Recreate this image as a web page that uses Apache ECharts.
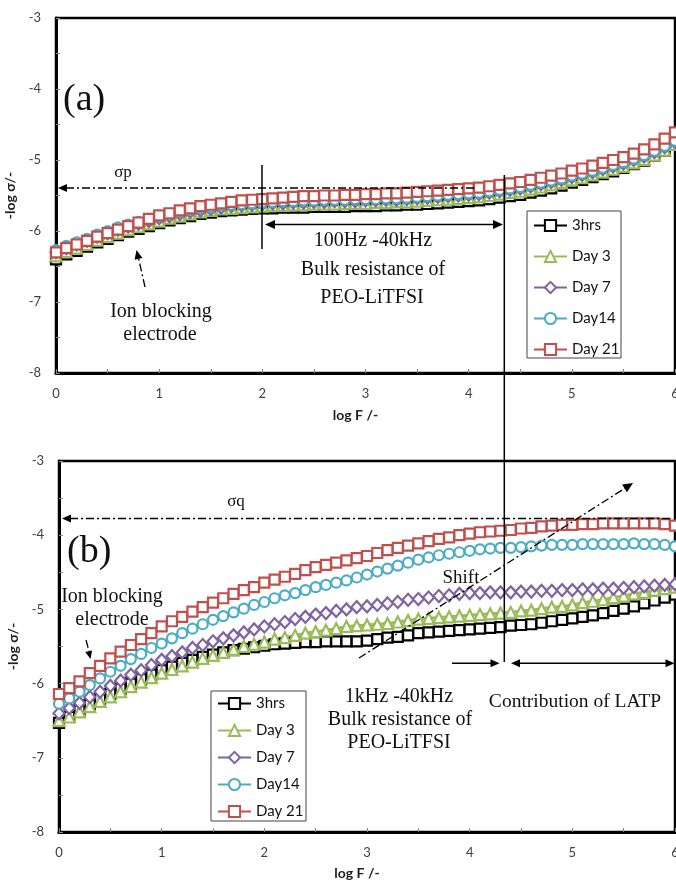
<!DOCTYPE html>
<html><head><meta charset="utf-8">
<script src="https://cdn.jsdelivr.net/npm/echarts@6/dist/echarts.min.js"></script>
<style>html,body{margin:0;padding:0;background:#fff;overflow:hidden}#c{width:676px;height:882px}</style>
</head><body><div id="c"></div>
<script>
const logF = [0,0.1,0.2,0.3,0.4,0.5,0.6,0.7,0.8,0.9,1,1.1,1.2,1.3,1.4,1.5,1.6,1.7,1.8,1.9,2,2.1,2.2,2.3,2.4,2.5,2.6,2.7,2.8,2.9,3,3.1,3.2,3.3,3.4,3.5,3.6,3.7,3.8,3.9,4,4.1,4.2,4.3,4.4,4.5,4.6,4.7,4.8,4.9,5,5.1,5.2,5.3,5.4,5.5,5.6,5.7,5.8,5.9,6];
const seriesNames = ['3hrs','Day 3','Day 7','Day14','Day 21'];
const seriesColors = ['#000000','#9BBB59','#8064A2','#4BACC6','#C0504D'];
const seriesSymbols = ['rect','triangle','diamond','circle','rect'];
const xTickValues = [0,1,2,3,4,5,6];
const yTickValues = [-8,-7,-6,-5,-4,-3];

// (a) top panel
const a_3hrs = [-6.40,-6.33,-6.28,-6.22,-6.16,-6.11,-6.06,-6.01,-5.97,-5.93,-5.89,-5.85,-5.82,-5.79,-5.76,-5.74,-5.72,-5.71,-5.70,-5.69,-5.68,-5.68,-5.67,-5.67,-5.67,-5.66,-5.66,-5.66,-5.66,-5.65,-5.65,-5.65,-5.64,-5.64,-5.63,-5.63,-5.62,-5.61,-5.60,-5.59,-5.58,-5.57,-5.55,-5.53,-5.51,-5.49,-5.46,-5.43,-5.40,-5.36,-5.32,-5.28,-5.24,-5.20,-5.16,-5.11,-5.06,-5.01,-4.94,-4.87,-4.78];
const a_day3 = [-6.35,-6.29,-6.24,-6.19,-6.13,-6.08,-6.03,-5.98,-5.94,-5.90,-5.86,-5.82,-5.79,-5.76,-5.73,-5.71,-5.69,-5.68,-5.67,-5.66,-5.65,-5.64,-5.64,-5.63,-5.63,-5.62,-5.62,-5.62,-5.61,-5.61,-5.61,-5.60,-5.60,-5.59,-5.59,-5.58,-5.57,-5.56,-5.55,-5.54,-5.53,-5.52,-5.50,-5.48,-5.46,-5.44,-5.41,-5.38,-5.35,-5.32,-5.28,-5.25,-5.21,-5.17,-5.13,-5.09,-5.04,-4.99,-4.93,-4.86,-4.78];
const a_day7 = [-6.30,-6.24,-6.19,-6.14,-6.08,-6.03,-5.98,-5.94,-5.90,-5.86,-5.82,-5.79,-5.76,-5.73,-5.71,-5.69,-5.67,-5.65,-5.64,-5.63,-5.62,-5.61,-5.61,-5.60,-5.60,-5.59,-5.59,-5.58,-5.58,-5.58,-5.57,-5.57,-5.56,-5.56,-5.55,-5.54,-5.53,-5.52,-5.51,-5.50,-5.49,-5.48,-5.46,-5.44,-5.42,-5.40,-5.37,-5.34,-5.31,-5.28,-5.24,-5.21,-5.17,-5.13,-5.09,-5.05,-5.00,-4.95,-4.89,-4.82,-4.75];
const a_day14 = [-6.27,-6.21,-6.16,-6.11,-6.05,-6.00,-5.95,-5.91,-5.87,-5.83,-5.79,-5.76,-5.73,-5.70,-5.68,-5.66,-5.64,-5.63,-5.62,-5.61,-5.60,-5.59,-5.58,-5.58,-5.57,-5.57,-5.56,-5.56,-5.56,-5.55,-5.55,-5.55,-5.54,-5.54,-5.53,-5.52,-5.51,-5.50,-5.49,-5.48,-5.47,-5.46,-5.44,-5.42,-5.40,-5.38,-5.35,-5.32,-5.29,-5.26,-5.22,-5.19,-5.15,-5.11,-5.07,-5.03,-4.98,-4.93,-4.87,-4.80,-4.73];
const a_day21 = [-6.30,-6.24,-6.19,-6.14,-6.08,-6.03,-5.98,-5.93,-5.88,-5.83,-5.78,-5.75,-5.71,-5.68,-5.65,-5.63,-5.61,-5.59,-5.57,-5.56,-5.55,-5.54,-5.53,-5.52,-5.51,-5.51,-5.50,-5.50,-5.49,-5.49,-5.48,-5.48,-5.47,-5.47,-5.46,-5.45,-5.44,-5.43,-5.42,-5.41,-5.40,-5.39,-5.37,-5.35,-5.33,-5.31,-5.28,-5.25,-5.22,-5.19,-5.15,-5.12,-5.08,-5.04,-5.00,-4.96,-4.91,-4.85,-4.78,-4.70,-4.61];

// (b) bottom panel
const b_3hrs = [-6.53,-6.45,-6.36,-6.28,-6.21,-6.14,-6.07,-6.00,-5.94,-5.88,-5.82,-5.77,-5.72,-5.68,-5.64,-5.61,-5.58,-5.55,-5.53,-5.51,-5.49,-5.47,-5.46,-5.45,-5.44,-5.44,-5.43,-5.43,-5.43,-5.43,-5.42,-5.40,-5.38,-5.37,-5.35,-5.32,-5.31,-5.30,-5.29,-5.28,-5.27,-5.26,-5.25,-5.24,-5.22,-5.21,-5.20,-5.18,-5.16,-5.14,-5.12,-5.10,-5.08,-5.05,-5.02,-4.99,-4.96,-4.92,-4.88,-4.84,-4.80];
const b_day3 = [-6.50,-6.45,-6.38,-6.31,-6.24,-6.18,-6.11,-6.04,-5.98,-5.92,-5.86,-5.81,-5.76,-5.71,-5.66,-5.62,-5.58,-5.54,-5.50,-5.47,-5.44,-5.40,-5.38,-5.35,-5.32,-5.30,-5.28,-5.26,-5.23,-5.22,-5.21,-5.20,-5.19,-5.17,-5.15,-5.13,-5.12,-5.11,-5.10,-5.09,-5.08,-5.07,-5.06,-5.05,-5.04,-5.02,-5.01,-4.99,-4.97,-4.96,-4.94,-4.91,-4.89,-4.87,-4.84,-4.82,-4.79,-4.77,-4.74,-4.72,-4.70];
const b_day7 = [-6.40,-6.33,-6.26,-6.18,-6.11,-6.03,-5.96,-5.88,-5.82,-5.75,-5.68,-5.63,-5.58,-5.52,-5.48,-5.43,-5.39,-5.35,-5.31,-5.27,-5.23,-5.20,-5.17,-5.13,-5.10,-5.07,-5.05,-5.02,-5.00,-4.97,-4.96,-4.94,-4.92,-4.90,-4.87,-4.86,-4.84,-4.82,-4.81,-4.79,-4.78,-4.78,-4.77,-4.77,-4.77,-4.76,-4.76,-4.75,-4.75,-4.74,-4.74,-4.73,-4.73,-4.72,-4.72,-4.71,-4.70,-4.69,-4.68,-4.67,-4.66];
const b_day14 = [-6.27,-6.20,-6.11,-6.02,-5.93,-5.84,-5.76,-5.67,-5.60,-5.52,-5.46,-5.39,-5.32,-5.26,-5.20,-5.14,-5.09,-5.04,-4.99,-4.94,-4.90,-4.85,-4.81,-4.78,-4.74,-4.70,-4.67,-4.64,-4.61,-4.57,-4.53,-4.49,-4.45,-4.41,-4.37,-4.33,-4.30,-4.27,-4.25,-4.23,-4.21,-4.19,-4.18,-4.17,-4.17,-4.16,-4.15,-4.14,-4.13,-4.13,-4.13,-4.12,-4.12,-4.12,-4.12,-4.12,-4.11,-4.12,-4.12,-4.13,-4.15];
const b_day21 = [-6.14,-6.06,-5.97,-5.86,-5.76,-5.66,-5.57,-5.48,-5.40,-5.32,-5.23,-5.16,-5.10,-5.03,-4.97,-4.91,-4.85,-4.79,-4.74,-4.70,-4.64,-4.60,-4.56,-4.52,-4.47,-4.43,-4.40,-4.37,-4.34,-4.31,-4.28,-4.24,-4.20,-4.17,-4.14,-4.11,-4.08,-4.05,-4.03,-4.00,-3.98,-3.96,-3.95,-3.94,-3.93,-3.91,-3.90,-3.88,-3.87,-3.86,-3.86,-3.85,-3.85,-3.84,-3.84,-3.84,-3.84,-3.84,-3.84,-3.85,-3.87];

const panelA = [a_3hrs, a_day3, a_day7, a_day14, a_day21];
const panelB = [b_3hrs, b_day3, b_day7, b_day14, b_day21];

const symbolSizes = [10, 11, [11,12], 10, 10];

function mkSeries(idx, arr, g) {
  return {
    name: seriesNames[idx], type: 'line', xAxisIndex: g, yAxisIndex: g,
    data: logF.map((x, i) => [x, arr[i]]),
    symbol: seriesSymbols[idx], symbolSize: symbolSizes[idx],
    showSymbol: true, showAllSymbol: true,
    itemStyle: { color: '#fff', borderColor: seriesColors[idx], borderWidth: 2.2 },
    lineStyle: { color: seriesColors[idx], width: 3 },
    emphasis: { disabled: true }, animation: false, z: 2
  };
}

const series = [];
panelA.forEach((arr, i) => series.push(mkSeries(i, arr, 0)));
panelB.forEach((arr, i) => series.push(mkSeries(i, arr, 1)));

const labelFont = { fontFamily: 'Lato', fontSize: 13, color: '#404040' };
function mkX(g, gap) {
  return {
    type: 'value', gridIndex: g, min: 0, max: 6, interval: 1,
    name: 'log F /-', nameLocation: 'middle', nameGap: gap,
    nameTextStyle: { fontFamily: 'Lato', fontWeight: 'bold', fontSize: 14, color: '#222', padding: [0, 20, 0, 0] },
    axisLine: { show: true, onZero: false, lineStyle: { color: '#000', width: 3 } },
    axisTick: { show: true, inside: true, length: 4, lineStyle: { color: '#888' } },
    minorTick: { show: true, splitNumber: 2, length: 4, lineStyle: { color: '#888' } },
    splitLine: { show: false },
    axisLabel: Object.assign({ margin: 14, formatter: v => xTickValues.includes(v) ? String(v) : '' }, labelFont)
  };
}
function mkY(g) {
  return {
    type: 'value', gridIndex: g, min: -8, max: -3, interval: 1,
    name: '-log σ/-', nameLocation: 'middle', nameGap: 31,
    nameTextStyle: { fontFamily: 'Lato', fontWeight: 'bold', fontSize: 14, color: '#222' },
    axisLine: { show: true, onZero: false, lineStyle: { color: '#000', width: 3 } },
    axisTick: { show: true, inside: true, length: 4, lineStyle: { color: '#888' } },
    minorTick: { show: true, splitNumber: 2, length: 4, lineStyle: { color: '#888' } },
    splitLine: { show: false },
    axisLabel: Object.assign({ margin: 15, formatter: v => yTickValues.includes(v) ? String(v) : '' }, labelFont)
  };
}

const serif = '"Liberation Serif", "Times New Roman", serif';
function txt(s, x, y, size, align) {
  return { type: 'text', x: x, y: y, z: 100,
    style: { text: s, fontFamily: serif, fontSize: size || 20, fill: '#111', align: align || 'center', verticalAlign: 'middle' } };
}
function ln(x1, y1, x2, y2, dash) {
  return { type: 'line', z: 100, shape: { x1, y1, x2, y2 },
    style: { stroke: '#000', lineWidth: dash ? 1.3 : 1.5, lineDash: dash ? [8, 3, 2, 3] : null } };
}
function head(tx, ty, fx, fy, len, hw) {
  len = len || 9; hw = hw || 4;
  const dx = tx - fx, dy = ty - fy, d = Math.hypot(dx, dy), ux = dx / d, uy = dy / d;
  const bx = tx - ux * len, by = ty - uy * len;
  return { type: 'polygon', z: 100, shape: { points: [[tx, ty], [bx - uy * hw, by + ux * hw], [bx + uy * hw, by - ux * hw]] }, style: { fill: '#000' } };
}
function rectBox(x, y, w, h) {
  return { type: 'rect', z: 3, shape: { x, y, width: w, height: h }, style: { fill: '#fff', stroke: '#444', lineWidth: 1 } };
}

const graphics = [
  rectBox(527, 211, 94, 147),
  rectBox(211, 691, 95, 130),
  // top panel
  txt('(a)', 63, 100, 38, 'left'),
  txt('σp', 123, 173, 17),
  ln(66, 188, 474, 188, true), head(58, 188, 70, 188),
  ln(262, 165, 262, 249, false),
  ln(272, 224.5, 496, 224.5, false), head(265, 224.5, 280, 224.5, 10, 4.5), head(503, 224.5, 490, 224.5, 10, 4.5),
  txt('100Hz -40kHz', 373, 241), txt('Bulk resistance of', 373, 270), txt('PEO-LiTFSI', 372, 298),
  txt('Ion blocking', 161, 312), txt('electrode', 160, 335),
  ln(145, 287, 138.5, 258, true), head(136.5, 250, 145, 287),
  // long vertical line
  ln(504.3, 175, 504.3, 662, false),
  // bottom panel
  txt('(b)', 67, 552, 38, 'left'),
  txt('σq', 236, 502, 17),
  ln(70, 518.5, 672, 518.5, true), head(62, 518.5, 75, 518.5),
  txt('Ion blocking', 112, 597), txt('electrode', 112, 620),
  ln(86, 640, 89, 651, true), head(90.5, 659, 86, 640, 8, 3.5),
  txt('Shift', 461, 578, 19),
  ln(359, 658, 626, 487.5, true), head(633, 483, 359, 658, 10, 4.5),
  ln(452, 663.3, 492, 663.3, false), head(499.5, 663.3, 452, 663.3, 9, 4),
  ln(518, 663.3, 667, 663.3, false), head(511, 663.3, 530, 663.3, 9, 4), head(674.5, 663.3, 650, 663.3, 9, 4),
  txt('1kHz -40kHz', 399, 697), txt('Bulk resistance of', 400, 720), txt('PEO-LiTFSI', 399, 743),
  txt('Contribution of LATP', 575, 702, 19.5)
];

const legendText = { fontFamily: 'Lato', fontSize: 15, color: '#111' };
const gridCommon = { show: true, borderColor: '#000', borderWidth: 2.5, backgroundColor: 'transparent', containLabel: false, outerBoundsMode: 'none' };
const option = {
  animation: false,
  backgroundColor: '#fff',
  grid: [
    Object.assign({ left: 56, top: 18, width: 619, height: 355 }, gridCommon),
    Object.assign({ left: 59, top: 461, width: 616, height: 371 }, gridCommon)
  ],
  xAxis: [mkX(0, 35), mkX(1, 34)],
  yAxis: [mkY(0), mkY(1)],
  legend: [
    { orient: 'vertical', left: 533, top: 218, padding: 0, itemWidth: 33, itemHeight: 14, itemGap: 16, data: seriesNames, textStyle: legendText, selectedMode: false, z: 5 },
    { orient: 'vertical', left: 217, top: 696, padding: 0, itemWidth: 33, itemHeight: 14, itemGap: 12, data: seriesNames, textStyle: legendText, selectedMode: false, z: 5 }
  ],
  graphic: { elements: graphics },
  series: series
};
const chart = echarts.init(document.getElementById('c'), null, { renderer: 'canvas' });
chart.setOption(option);
</script>
</body></html>
